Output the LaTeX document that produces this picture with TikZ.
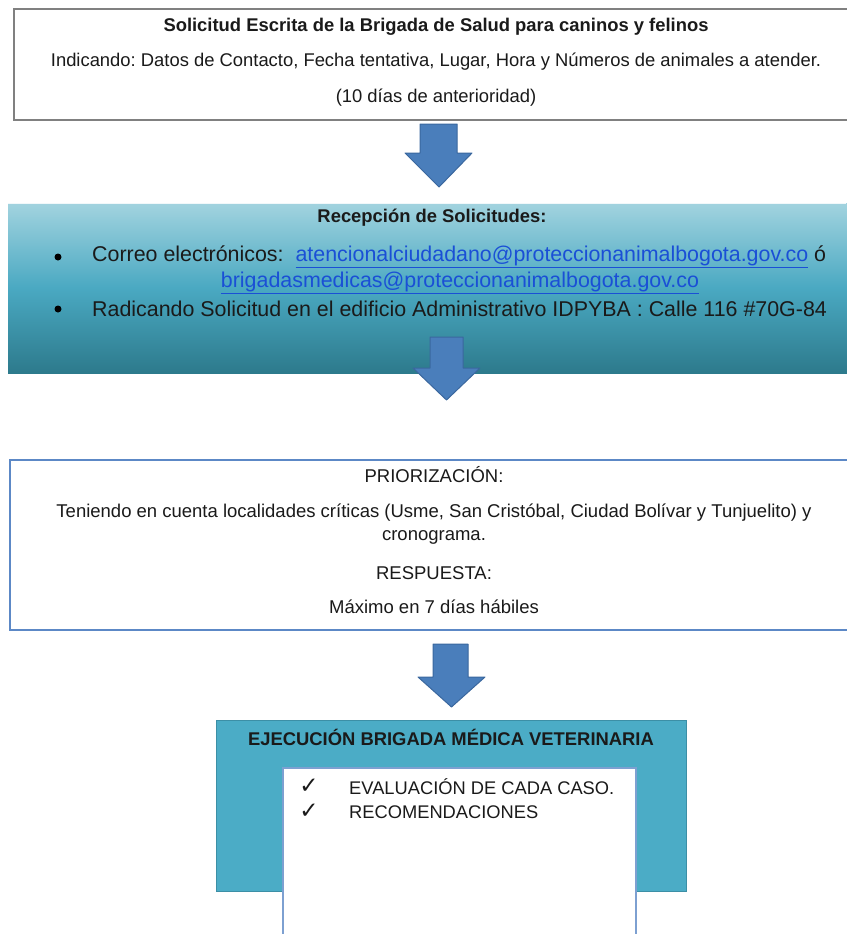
\documentclass[tikz,border=0pt]{standalone}
\usepackage{fontspec}
\setmainfont{Liberation Sans}
\newfontfamily\dejavu{DejaVu Sans}
\usetikzlibrary{positioning}
\definecolor{arrowfill}{HTML}{4A7EBB}
\definecolor{arrowline}{HTML}{3A679E}
\definecolor{linkblue}{HTML}{1A4FD6}
\definecolor{tealtop}{HTML}{A2D3DF}
\definecolor{tealmid}{HTML}{4AA9C2}
\definecolor{tealbot}{HTML}{2D7A8C}
\definecolor{tealbox}{HTML}{4BACC6}
\definecolor{tealedge}{HTML}{3C8FA6}
\definecolor{blueedge}{HTML}{5C88C6}
\definecolor{greyedge}{HTML}{808080}
\definecolor{txt}{HTML}{1A1A1A}
\tikzset{
  txtnode/.style={inner sep=0pt, text=txt, anchor=center},
  downarrow/.style={fill=arrowfill, draw=arrowline, line width=1pt, line join=round},
  bulletdot/.style={circle, fill=black, inner sep=0pt, minimum size=7pt},
}
\newcommand{\lnk}[1]{{\color{linkblue}\underline{#1}}}
\begin{document}
\frenchspacing
\begin{tikzpicture}[x=1pt,y=-1pt]
\useasboundingbox (0,0) rectangle (846,934);
% Box 1
\node[draw=greyedge, line width=1.5pt, fill=white, minimum width=846pt, minimum height=111pt, inner sep=0pt] (box1) at (437,64.5) {};
\node[txtnode, font=\fontsize{18.4}{22}\selectfont\bfseries] (t1a) at (436,27) {Solicitud Escrita de la Brigada de Salud para caninos y felinos};
\node[txtnode, font=\fontsize{18.4}{22}\selectfont] (t1b) at (436,62) {Indicando: Datos de Contacto, Fecha tentativa, Lugar, Hora y Números de animales a atender.};
\node[txtnode, font=\fontsize{18.4}{22}\selectfont] (t1c) at (436,98) {(10 días de anterioridad)};
% Arrow 1
\draw[downarrow] (420,124) -- (457,124) -- (457,153) -- (472,153) -- (439,187) -- (405,153) -- (420,153) -- cycle;
% Box 2
\shade[top color=tealtop, bottom color=tealbot, middle color=tealmid] (8,203) rectangle (860,373);
\draw[white!85!tealtop, line width=1pt] (8,203) -- (846,203);
\node[txtnode, font=\fontsize{18.4}{22}\selectfont\bfseries] (t2a) at (432,218) {Recepción de Solicitudes:};
\node[bulletdot] (b1) at (58,257) {};
\node[txtnode, font=\fontsize{21.4}{25}\selectfont, anchor=west] (t2b) at (92,257) {Correo electrónicos:\ \ \lnk{atencionalciudadano@proteccionanimalbogota.gov.co} ó};
\node[txtnode, font=\fontsize{21.4}{25}\selectfont] (t2c) at (460,283) {\lnk{brigadasmedicas@proteccionanimalbogota.gov.co}};
\node[bulletdot] (b2) at (58,309) {};
\node[txtnode, font=\fontsize{21.4}{25}\selectfont, anchor=west] (t2d) at (92,309) {Radicando Solicitud en el edificio Administrativo IDPYBA : Calle 116 \#70G-84};
% Arrow 2
\draw[downarrow] (430,337) -- (463,337) -- (463,368) -- (480,368) -- (446.5,400) -- (413,368) -- (430,368) -- cycle;
% Box 3
\node[draw=blueedge, line width=2.5pt, fill=white, minimum width=850pt, minimum height=170pt, inner sep=0pt] (box3) at (435,545) {};
\node[txtnode, font=\fontsize{18.5}{22}\selectfont] (t3a) at (434,475) {PRIORIZACIÓN:};
\node[txtnode, font=\fontsize{18.5}{22}\selectfont] (t3b) at (434,513) {Teniendo en cuenta localidades críticas (Usme, San Cristóbal, Ciudad Bolívar y Tunjuelito) y};
\node[txtnode, font=\fontsize{18.5}{22}\selectfont] (t3c) at (434,537) {cronograma.};
\node[txtnode, font=\fontsize{18.5}{22}\selectfont] (t3d) at (434,573) {RESPUESTA:};
\node[txtnode, font=\fontsize{18.5}{22}\selectfont] (t3e) at (434,607) {Máximo en 7 días hábiles};
% Arrow 3
\draw[downarrow] (433,644) -- (468,644) -- (468,677) -- (485,677) -- (451.5,707) -- (418,677) -- (433,677) -- cycle;
% Box 4
\node[draw=tealedge, line width=1pt, fill=tealbox, minimum width=470pt, minimum height=171pt, inner sep=0pt] (box4) at (451,805.5) {};
\node[txtnode, font=\fontsize{18.4}{22}\selectfont\bfseries] (t4a) at (451,737) {EJECUCIÓN BRIGADA MÉDICA VETERINARIA};
\node[draw=blueedge!80!white, line width=2pt, fill=white, minimum width=353pt, minimum height=180pt, inner sep=0pt] (box5) at (459.5,858) {};
\node[txtnode, font=\fontsize{23}{26}\selectfont\dejavu] (c1) at (309,786) {✓};
\node[txtnode, font=\fontsize{18.3}{22}\selectfont, anchor=west] (t5a) at (349,787) {EVALUACIÓN DE CADA CASO.};
\node[txtnode, font=\fontsize{23}{26}\selectfont\dejavu] (c2) at (309,811) {✓};
\node[txtnode, font=\fontsize{18.3}{22}\selectfont, anchor=west] (t5b) at (349,812) {RECOMENDACIONES};
\end{tikzpicture}
\end{document}
